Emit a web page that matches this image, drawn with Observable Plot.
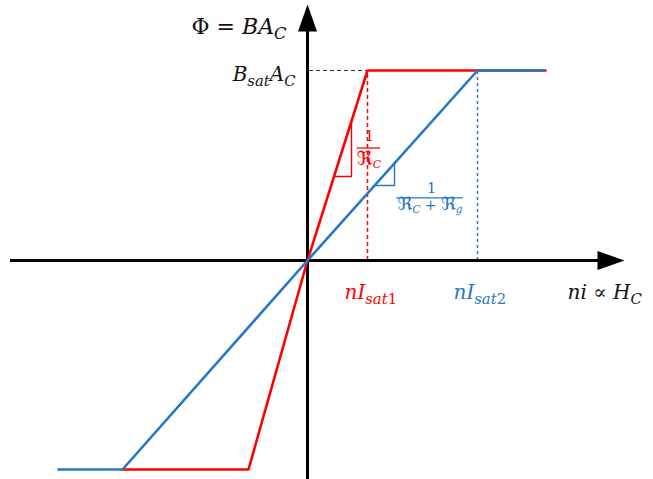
<!DOCTYPE html>
<html>
<head>
<meta charset="utf-8">
<script src="https://cdn.jsdelivr.net/npm/d3@7"></script>
<script src="https://cdn.jsdelivr.net/npm/@observablehq/plot@0.6"></script>
<style>
  html, body { margin: 0; padding: 0; background: #ffffff; }
  #chart svg { display: block; }
</style>
</head>
<body>
<div id="chart"></div>
<script>
// ---- Data (abstract units; origin at the axes crossing) ----
const redX  = [-18.5, -5.9, 0, 6.0, 23.8];
const redY  = [-20.9, -20.9, 0, 19.0, 19.0];
const blueX = [-24.9, -18.5, 0, 17.0, 23.6];
const blueY = [-20.9, -20.9, 0, 19.0, 19.0];

const satFlux = 19.0;     // B_sat A_C level
const nIsat1 = 6.0;       // red knee
const nIsat2 = 17.0;      // blue knee

const xAxisExtent = [-29.7, 29.3, 31.7];   // start, line end, arrow tip
const yAxisExtent = [-22.5, 23.0, 25.6];

// slope triangles
const redTriX = [2.65, 4.4, 4.4];
const redTriY = [8.4, 8.4, 13.8];
const blueTriX = [6.7, 8.7, 8.7];
const blueTriY = [7.5, 7.5, 9.7];

// labels
const labelText  = ["Φ = BA_{C}", "B_{sat}A_{C}", "nI_{sat1}", "nI_{sat2}", "ni ∝ H_{C}", "1", "ℜ_{C}", "1", "ℜ_{C} + ℜ_{g}"];
const labelX     = [-2.1, -1.2, 3.7, 14.6, 26.0, 6.2, 6.15, 12.4, 12.25];
const labelY     = [22.7, 18.0, -3.8, -3.8, -3.8, 12.0, 9.6, 6.8, 5.1];
const labelAnchor= ["end", "end", "start", "start", "start", "middle", "middle", "middle", "middle"];
const labelColor = ["black", "black", "red", "blue", "black", "red", "red", "blue", "blue"];
const labelSize  = [22, 20, 20, 20, 20, 15, 15, 15, 14];

// fraction bars
const barY  = [11.25, 6.27];
const barX1 = [5.0, 8.9];
const barX2 = [7.3, 15.6];
const barColor = ["red", "blue"];

const RED = "#FF0000";
const BLUE = "#2478C6";
const colorOf = c => c === "red" ? RED : c === "blue" ? BLUE : "#111111";

const pts = (xs, ys) => xs.map((x, i) => ({x, y: ys[i]}));
const labels = labelText.map((t, i) => ({t, x: labelX[i], y: labelY[i], a: labelAnchor[i], c: colorOf(labelColor[i]), s: labelSize[i]}));

// filled arrowhead symbol, tip at the anchor, pointing up
const arrowHead = {
  draw(ctx) {
    ctx.moveTo(0, 0);
    ctx.lineTo(-9.5, 27);
    ctx.lineTo(9.5, 27);
    ctx.closePath();
  }
};

const textMarks = [];
for (const anchor of ["start", "middle", "end"]) {
  for (const size of [14, 15, 20, 22]) {
    const sub = labels.filter(d => d.a === anchor && d.s === size);
    if (!sub.length) continue;
    textMarks.push(Plot.text(sub, {
      x: "x", y: "y", text: "t", fill: "c",
      textAnchor: anchor, lineAnchor: "bottom",
      fontSize: size, fontFamily: "DejaVu Serif"
    }));
  }
}

const chart = Plot.plot({
  width: 653,
  height: 479,
  margin: 0,
  x: {domain: [-30.7, 34.6], range: [0, 653], axis: null},
  y: {domain: [-21.9, 26.0], range: [479, 0], axis: null},
  style: {background: "#ffffff", overflow: "visible"},
  marks: [
    // dashed guides
    Plot.ruleY([satFlux], {x1: 0.2, x2: nIsat1, stroke: "#333", strokeWidth: 1.2, strokeDasharray: "4,3"}),
    Plot.ruleX([nIsat1], {y1: 0, y2: satFlux, stroke: RED, strokeWidth: 1.5, strokeDasharray: "4,3"}),
    Plot.ruleX([nIsat2], {y1: 0, y2: satFlux, stroke: BLUE, strokeWidth: 1.5, strokeDasharray: "3,3"}),
    // axes
    Plot.ruleY([0], {x1: xAxisExtent[0], x2: xAxisExtent[1], stroke: "black", strokeWidth: 3}),
    Plot.ruleX([0], {y1: yAxisExtent[0], y2: yAxisExtent[1], stroke: "black", strokeWidth: 3}),
    Plot.dot([{x: 0, y: yAxisExtent[2]}], {x: "x", y: "y", symbol: arrowHead, fill: "black", stroke: "none"}),
    Plot.dot([{x: xAxisExtent[2], y: 0}], {x: "x", y: "y", symbol: arrowHead, fill: "black", stroke: "none", rotate: 90}),
    // curves
    Plot.line(pts(redX, redY), {x: "x", y: "y", stroke: RED, strokeWidth: 2.6, strokeLinejoin: "miter"}),
    Plot.line(pts(blueX, blueY), {x: "x", y: "y", stroke: BLUE, strokeWidth: 2.6, strokeLinejoin: "miter"}),
    // slope triangles
    Plot.line(pts(redTriX, redTriY), {x: "x", y: "y", stroke: RED, strokeWidth: 1.4}),
    Plot.line(pts(blueTriX, blueTriY), {x: "x", y: "y", stroke: BLUE, strokeWidth: 1.4}),
    // fraction bars
    Plot.ruleY(barY.map((y, i) => ({y, x1: barX1[i], x2: barX2[i], c: colorOf(barColor[i])})), {y: "y", x1: "x1", x2: "x2", stroke: "c", strokeWidth: 1.3}),
    ...textMarks
  ]
});

document.getElementById("chart").appendChild(chart);

// turn "_{...}" into subscripts, latin letters into italics (math style)
const SVGNS = "http://www.w3.org/2000/svg";
function kindOf(ch) {
  if (ch === "ℜ") return "frak";
  if (/[A-Za-z]/.test(ch)) return "it";
  return "up";
}
function parseRuns(s) {
  const chars = [];
  let i = 0;
  while (i < s.length) {
    if (s[i] === "_" && s[i + 1] === "{") {
      const j = s.indexOf("}", i);
      for (const ch of s.slice(i + 2, j)) chars.push({ch, sub: true});
      i = j + 1;
    } else {
      chars.push({ch: s[i], sub: false});
      i++;
    }
  }
  const runs = [];
  for (const c of chars) {
    const k = kindOf(c.ch);
    const last = runs[runs.length - 1];
    if (last && last.sub === c.sub && last.k === k) last.text += c.ch;
    else runs.push({text: c.ch, sub: c.sub, k});
  }
  return runs;
}
chart.querySelectorAll("text").forEach(el => {
  const s = el.textContent;
  const fs = parseFloat(getComputedStyle(el).fontSize) || 20;
  const runs = parseRuns(s);
  el.textContent = "";
  let inSub = false;
  for (const r of runs) {
    const t = document.createElementNS(SVGNS, "tspan");
    if (r.sub && !inSub) t.setAttribute("dy", (0.26 * fs).toFixed(2));
    if (!r.sub && inSub) t.setAttribute("dy", (-0.26 * fs).toFixed(2));
    inSub = r.sub;
    let size = r.sub ? 0.74 * fs : fs;
    if (r.k === "frak") {
      t.setAttribute("font-family", "DejaVu Sans");
      size *= 1.3;
    }
    if (size !== fs) t.setAttribute("font-size", size.toFixed(2));
    if (r.k === "it") t.setAttribute("font-style", "italic");
    t.textContent = r.text;
    el.appendChild(t);
  }
});
</script>
</body>
</html>
